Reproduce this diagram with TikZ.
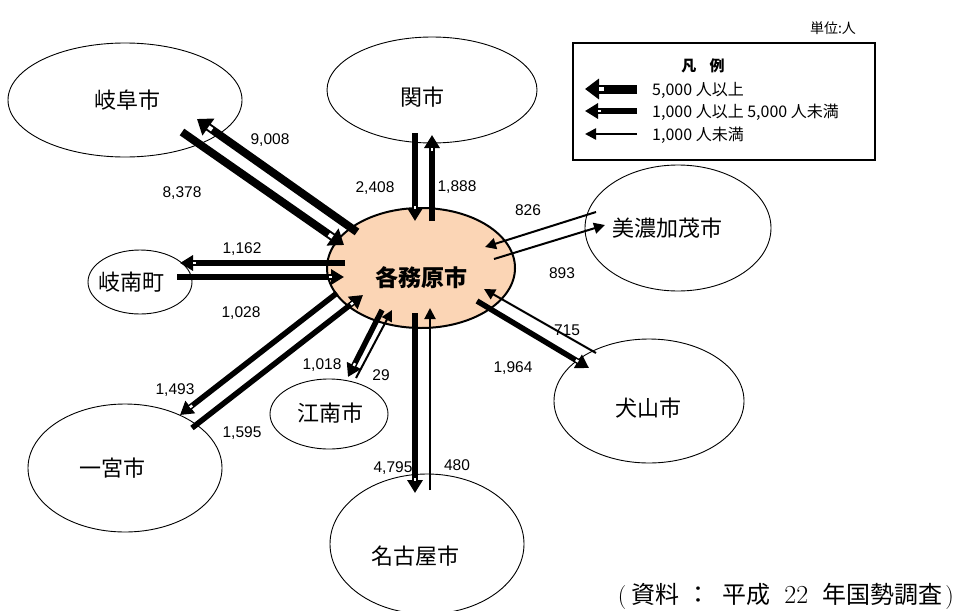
\documentclass[tikz,border=0pt]{standalone}
\usepackage{fontspec}
\newfontfamily\jp{Noto Sans CJK JP}
\newfontfamily\numfont{Liberation Sans}
\usetikzlibrary{arrows.meta,shapes.geometric,decorations.markings}
\definecolor{peach}{RGB}{251,213,181}
\begin{document}
\begin{tikzpicture}[x=1pt,y=-1pt,
  city/.style={draw, line width=0.9pt, ellipse, inner sep=0pt, fill=white},
  cname/.style={font=\jp\fontsize{22}{22}\selectfont, inner sep=0pt},
  num/.style={font=\numfont\fontsize{15.5}{16}\selectfont, inner sep=0pt},
  lgtext/.style={font=\jp\fontsize{16}{16}\selectfont, inner sep=0pt, anchor=west},
  notchL/.style={postaction={decorate, decoration={markings, mark=at position -16pt with {\fill[white] (-2.5pt,-2pt) rectangle (2pt,2pt);}}}},
  notchM/.style={postaction={decorate, decoration={markings, mark=at position -14pt with {\fill[white] (-1.5pt,-1.2pt) rectangle (1.5pt,1.2pt);}}}},
  flowL/.style={line width=8pt, -{Triangle[width=20pt,length=14pt]}, notchL},
  flowM/.style={line width=5.5pt, -{Triangle[width=15pt,length=13pt]}, notchM},
  flowS/.style={line width=2pt, -{Triangle[width=11pt,length=11pt]}},
]
\useasboundingbox (0,0) rectangle (957,610);

% city ellipses
\node[city, minimum width=234pt, minimum height=114pt] (gifu) at (125,100) {};
\node[city, minimum width=210pt, minimum height=106pt] (seki) at (432,90) {};
\node[city, minimum width=186pt, minimum height=126pt] (mino) at (678,228) {};
\node[city, minimum width=104pt, minimum height=64pt] (ginan) at (140,282) {};
\node[city, minimum width=118pt, minimum height=70pt] (konan) at (329,414) {};
\node[city, minimum width=194pt, minimum height=128pt] (ichi) at (125,468) {};
\node[city, minimum width=194pt, minimum height=140pt] (nagoya) at (427,544) {};
\node[city, minimum width=190pt, minimum height=124pt] (inu) at (649,401) {};
\node[draw, line width=2pt, ellipse, fill=peach, minimum width=188pt, minimum height=120pt, inner sep=0pt] (kaka) at (421,268) {};

% city names
\node[cname] (tgifu) at (127,100) {岐阜市};
\node[cname] (tseki) at (422,97) {関市};
\node[cname] (tmino) at (667,228) {美濃加茂市};
\node[cname] (tginan) at (131,282) {岐南町};
\node[cname] (tkonan) at (330,413) {江南市};
\node[cname] (tichi) at (112,468) {一宮市};
\node[cname] (tnagoya) at (415,556) {名古屋市};
\node[cname] (tinu) at (648,408) {犬山市};
\node[font=\jp\bfseries\fontsize{23}{23}\selectfont, inner sep=0pt] (tkaka) at (421,278) {各務原市};

% connector end points
\coordinate (a1) at (357,232); \coordinate (a2) at (197,119);
\coordinate (b1) at (182,132); \coordinate (b2) at (344,245);
\coordinate (c1) at (415,133); \coordinate (c2) at (415,221);
\coordinate (d1) at (432,221); \coordinate (d2) at (432,135);
\coordinate (e1) at (596,212); \coordinate (e2) at (485,247);
\coordinate (f1) at (494,259); \coordinate (f2) at (605,225);
\coordinate (g1) at (596,353); \coordinate (g2) at (484,289);
\coordinate (h1) at (477,301); \coordinate (h2) at (589,368);
\coordinate (i1) at (415,313); \coordinate (i2) at (415,493);
\coordinate (j1) at (430,490); \coordinate (j2) at (430,308);
\coordinate (k1) at (382,310); \coordinate (k2) at (348,377);
\coordinate (l1) at (356,378); \coordinate (l2) at (392,310);
\coordinate (m1) at (337,293); \coordinate (m2) at (180,415);
\coordinate (n1) at (192,428); \coordinate (n2) at (363,295);
\coordinate (o1) at (345,263); \coordinate (o2) at (180,263);
\coordinate (p1) at (177,277); \coordinate (p2) at (344,277);

% connectors
\draw[flowL] (a1) -- (a2);
\draw[flowL] (b1) -- (b2);
\draw[flowM] (c1) -- (c2);
\draw[flowM] (d1) -- (d2);
\draw[flowS] (e1) -- (e2);
\draw[flowS] (f1) -- (f2);
\draw[flowS] (g1) -- (g2);
\draw[flowM] (h1) -- (h2);
\draw[flowM] (i1) -- (i2);
\draw[flowS] (j1) -- (j2);
\draw[flowM] (k1) -- (k2);
\draw[flowS] (l1) -- (l2);
\draw[flowM] (m1) -- (m2);
\draw[flowM] (n1) -- (n2);
\draw[flowM] (o1) -- (o2);
\draw[flowM] (p1) -- (p2);

% numbers
\node[num] (n9008) at (270,140) {9,008};
\node[num] (n8378) at (182,193) {8,378};
\node[num] (n2408) at (375,188) {2,408};
\node[num] (n1888) at (457,187) {1,888};
\node[num] (n826) at (528,210) {826};
\node[num] (n893) at (562,273) {893};
\node[num] (n715) at (567,330) {715};
\node[num] (n1964) at (513,368) {1,964};
\node[num] (n1162) at (242,249) {1,162};
\node[num] (n1028) at (241,313) {1,028};
\node[num] (n1018) at (322,365) {1,018};
\node[num] (n29) at (381,375) {29};
\node[num] (n1493) at (175,390) {1,493};
\node[num] (n1595) at (242,433) {1,595};
\node[num] (n4795) at (393,468) {4,795};
\node[num] (n480) at (457,465) {480};

% legend
\node[draw, line width=1.4pt, minimum width=302pt, minimum height=117pt, inner sep=0pt] (legend) at (724,101.5) {};
\node[font=\jp\bfseries\fontsize{15}{15}\selectfont, inner sep=0pt] (lgtitle) at (703,66) {凡\hspace{0.9em}例};
\coordinate (q1) at (637,89); \coordinate (q2) at (585,89);
\coordinate (r1) at (637,111); \coordinate (r2) at (585,111);
\coordinate (s1) at (637,134); \coordinate (s2) at (585,134);
\draw[flowL, line width=9pt] (q1) -- (q2);
\draw[flowM, line width=6pt] (r1) -- (r2);
\draw[flowS, line width=2.5pt] (s1) -- (s2);
\node[lgtext] (lg1) at (652,90) {5,000 人以上};
\node[lgtext] (lg2) at (652,112) {1,000 人以上 5,000 人未満};
\node[lgtext] (lg3) at (652,135) {1,000 人未満};

\node[font=\jp\fontsize{14}{14}\selectfont, inner sep=0pt] (unit) at (833,28) {単位:人};
\node[anchor=east, inner sep=0pt, font=\fontsize{24}{24}\selectfont] (src) at (954,596) {(\hspace{5pt}{\jp 資料}\hspace{7pt}{\jp ：}\hspace{12pt}{\jp 平成}\hspace{14pt}{\fontsize{26}{26}\selectfont 22}\hspace{14pt}{\jp 年国勢調査}\hspace{3pt})};
\end{tikzpicture}
\end{document}
